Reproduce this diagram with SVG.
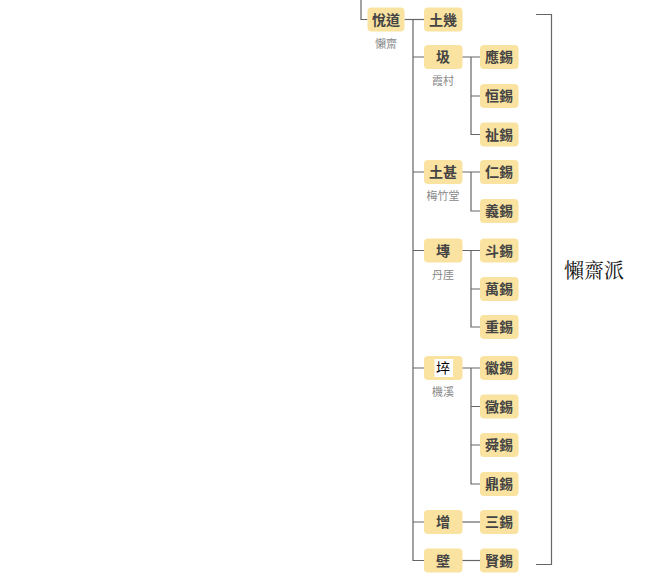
<svg xmlns="http://www.w3.org/2000/svg" width="669" height="588" viewBox="0 0 669 588">
<style>
.n rect.b{fill:#FAE3A0;}
.n text.t{font-family:"Noto Sans CJK TC","Noto Sans CJK SC",sans-serif;font-size:14px;font-weight:bold;fill:#444;text-anchor:middle;}
.s{font-family:"Noto Sans CJK TC","Noto Sans CJK SC",sans-serif;font-size:11px;fill:#888;text-anchor:middle;}
.c path{fill:none;stroke:#666;stroke-width:1.2;}
.title{font-family:"Noto Serif CJK TC","Noto Sans CJK TC",serif;font-size:20px;fill:#111;text-anchor:middle;}
</style>
<rect width="669" height="588" fill="#fff"/>
<g class="c" id="connectors">
<path d="M361,0 V19.5 H367.5"/>
<path d="M404.5,19.5 H424"/>
<path d="M413,19.5 V560.5 H424 M413,57 H424 M413,172 H424 M413,250.5 H424 M413,368 H424 M413,522 H424"/>
<path d="M462,57 H480 M471,57 V134.5 H480 M471,96 H480"/>
<path d="M462,172 H480 M471,172 V211 H480"/>
<path d="M462,250.5 H480 M471,250.5 V327 H480 M471,289 H480"/>
<path d="M462,368 H480 M471,368 V484 H480 M471,406.5 H480 M471,445 H480"/>
<path d="M462,522 H480"/>
<path d="M462,560.5 H480"/>
<path d="M536,14.5 H551.5 V564.5 H536"/>
</g>
<g class="n" id="n-yuedao"><rect class="b" x="367.5" y="7.5" width="37" height="24" rx="4"/><text class="t" x="386" y="24.5">悅道</text><text class="s" x="386" y="48">懶齋</text></g>
<g class="n" id="n-tuji"><rect class="b" x="424" y="7.5" width="38.5" height="24" rx="4"/><text class="t" x="443" y="24.5">土幾</text></g>
<g class="n" id="n-ji"><rect class="b" x="424" y="45" width="38.5" height="24" rx="4"/><text class="t" x="443" y="62">圾</text><text class="s" x="443" y="85">霞村</text></g>
<g class="n" id="n-yingxi"><rect class="b" x="480" y="45" width="38.5" height="24" rx="4"/><text class="t" x="499" y="62">應錫</text></g>
<g class="n" id="n-hengxi"><rect class="b" x="480" y="84" width="38.5" height="24" rx="4"/><text class="t" x="499" y="101">恒錫</text></g>
<g class="n" id="n-zhixi"><rect class="b" x="480" y="122.5" width="38.5" height="24" rx="4"/><text class="t" x="499" y="139.5">祉錫</text></g>
<g class="n" id="n-tushen"><rect class="b" x="424" y="160" width="38.5" height="24" rx="4"/><text class="t" x="443" y="177">土甚</text><text class="s" x="443" y="200">梅竹堂</text></g>
<g class="n" id="n-renxi"><rect class="b" x="480" y="160" width="38.5" height="24" rx="4"/><text class="t" x="499" y="177">仁錫</text></g>
<g class="n" id="n-yixi"><rect class="b" x="480" y="199" width="38.5" height="24" rx="4"/><text class="t" x="499" y="216">義錫</text></g>
<g class="n" id="n-zhuan"><rect class="b" x="424" y="238.5" width="38.5" height="24" rx="4"/><text class="t" x="443" y="255.5">塼</text><text class="s" x="443" y="278.5">丹厓</text></g>
<g class="n" id="n-douxi"><rect class="b" x="480" y="238.5" width="38.5" height="24" rx="4"/><text class="t" x="499" y="255.5">斗錫</text></g>
<g class="n" id="n-wanxi"><rect class="b" x="480" y="277" width="38.5" height="24" rx="4"/><text class="t" x="499" y="294">萬錫</text></g>
<g class="n" id="n-zhongxi"><rect class="b" x="480" y="315" width="38.5" height="24" rx="4"/><text class="t" x="499" y="332">重錫</text></g>
<g class="n" id="n-cui"><rect class="b" x="424" y="356" width="38.5" height="24" rx="4"/><rect x="434.5" y="359" width="18.5" height="18" fill="#fff"/><text class="t" x="443" y="373" style="fill:#000;font-weight:normal">埣</text><text class="s" x="443" y="396">機溪</text></g>
<g class="n" id="n-huixi"><rect class="b" x="480" y="356" width="38.5" height="24" rx="4"/><text class="t" x="499" y="373">徽錫</text></g>
<g class="n" id="n-meixi"><rect class="b" x="480" y="394.5" width="38.5" height="24" rx="4"/><text class="t" x="499" y="411.5">黴錫</text></g>
<g class="n" id="n-shunxi"><rect class="b" x="480" y="433" width="38.5" height="24" rx="4"/><text class="t" x="499" y="450">舜錫</text></g>
<g class="n" id="n-dingxi"><rect class="b" x="480" y="472" width="38.5" height="24" rx="4"/><text class="t" x="499" y="489">鼎錫</text></g>
<g class="n" id="n-zeng"><rect class="b" x="424" y="510" width="38.5" height="24" rx="4"/><text class="t" x="443" y="527">增</text></g>
<g class="n" id="n-sanxi"><rect class="b" x="480" y="510" width="38.5" height="24" rx="4"/><text class="t" x="499" y="527">三錫</text></g>
<g class="n" id="n-bi"><rect class="b" x="424" y="548.5" width="38.5" height="24" rx="4"/><text class="t" x="443" y="565.5">壁</text></g>
<g class="n" id="n-xianxi"><rect class="b" x="480" y="548.5" width="38.5" height="24" rx="4"/><text class="t" x="499" y="565.5">賢錫</text></g>
<g id="label-lanzhaipai"><text class="title" x="594" y="278">懶齋派</text></g>
</svg>
